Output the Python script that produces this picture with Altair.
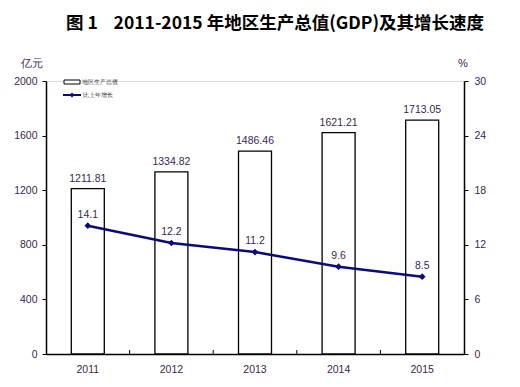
import altair as alt
import pandas as pd

years = ["2011", "2012", "2013", "2014", "2015"]
gdp = [1211.81, 1334.82, 1486.46, 1621.21, 1713.05]
growth = [14.1, 12.2, 11.2, 9.6, 8.5]
gdp_labels = ["1211.81", "1334.82", "1486.46", "1621.21", "1713.05"]
growth_labels = ["14.1", "12.2", "11.2", "9.6", "8.5"]

df = pd.DataFrame({"year": years, "gdp": gdp, "growth": growth,
                   "gdp_label": gdp_labels, "growth_label": growth_labels})

W, H = 418, 273
LBL = "#3a1f52"
NAVY = "#0b0b78"
FONT = "Liberation Sans"

base = alt.Chart(df)
x = alt.X("year:N", title=None, scale=alt.Scale(paddingInner=0.0, paddingOuter=0.0),
          axis=alt.Axis(labelAngle=0, ticks=False, domainColor="black", domainWidth=1.5,
                        labelColor=LBL, labelFont=FONT, labelFontSize=10.5, labelPadding=10))

yl = alt.Y("gdp:Q", title=None, scale=alt.Scale(domain=[0, 2000]),
           axis=alt.Axis(values=[0, 400, 800, 1200, 1600, 2000], format="d", grid=False,
                         domainColor="black", domainWidth=1.5, tickColor="black", tickSize=4,
                         labelPadding=5, labelColor=LBL, labelFont=FONT, labelFontSize=10.5))

yr = alt.Y("growth:Q", title=None, scale=alt.Scale(domain=[0, 30]),
           axis=alt.Axis(orient="right", values=[0, 6, 12, 18, 24, 30], format="d", grid=False,
                         domainColor="black", domainWidth=1.5, tickColor="black", tickSize=4,
                         labelPadding=6, labelColor=LBL, labelFont=FONT, labelFontSize=10.5))

bars = base.mark_bar(size=33, fill="white", stroke="black", strokeWidth=1.3).encode(x=x, y=yl)
bar_text = base.mark_text(dy=-10, font=FONT, fontSize=10.5, color=LBL).encode(
    x=x, y=yl, text="gdp_label:N")
sep_ticks = base.mark_rule(color="black", strokeWidth=1, xOffset=W / 10).encode(
    x=x, y=alt.value(H), y2=alt.value(H - 4)).transform_filter("datum.year != '2015'")

left = alt.layer(bars, bar_text, sep_ticks)

line = base.mark_line(color=NAVY, strokeWidth=2.5).encode(x=x, y=yr)
pts = base.mark_point(shape="diamond", filled=True, color=NAVY, size=45, opacity=1).encode(
    x=x, y=yr)
line_text = base.mark_text(dy=-11, font=FONT, fontSize=10.5, color=LBL).encode(
    x=x, y=yr, text="growth_label:N")
right = alt.layer(line, pts, line_text)

NB = "\u00a0"
title_text = "图" + NB + "1" + NB * 4 + "2011-2015" + NB + "年地区生产总值(GDP)及其增长速度"

one = alt.Chart(pd.DataFrame({"a": [0]}))
title = one.mark_text(font="Noto Sans CJK SC", fontWeight="bold", fontSize=17.5, color="black",
                      baseline="alphabetic").encode(
    x=alt.value(229), y=alt.value(-52), text=alt.value(title_text))
unit_l = one.mark_text(font=FONT, fontSize=11, color=LBL).encode(
    x=alt.value(-14), y=alt.value(-17), text=alt.value("亿元"))
unit_r = one.mark_text(font=FONT, fontSize=11, color=LBL).encode(
    x=alt.value(417), y=alt.value(-17), text=alt.value("%"))
leg_rect = one.mark_rect(fill="white", stroke="black", strokeWidth=1).encode(
    x=alt.value(18), x2=alt.value(34), y=alt.value(-1), y2=alt.value(3))
leg_t1 = one.mark_text(font=FONT, fontSize=6, color="#333333", align="left").encode(
    x=alt.value(36), y=alt.value(1), text=alt.value("地区生产总值"))
leg_line = one.mark_rule(color=NAVY, strokeWidth=2).encode(
    x=alt.value(17), x2=alt.value(35), y=alt.value(14))
leg_pt = one.mark_point(shape="diamond", filled=True, color=NAVY, size=25, opacity=1).encode(
    x=alt.value(26), y=alt.value(14))
leg_t2 = one.mark_text(font=FONT, fontSize=6, color="#333333", align="left").encode(
    x=alt.value(37), y=alt.value(14), text=alt.value("比上年增长"))

decor = alt.layer(title, unit_l, unit_r, leg_rect, leg_t1, leg_line, leg_pt, leg_t2)

chart = alt.layer(left, right, decor).resolve_scale(y="independent").properties(
    width=W, height=H, autosize="none",
    padding={"left": 38, "top": 73, "right": 46, "bottom": 26},
).configure_view(stroke=None).configure(background="white")

chart.save("out.html", embed_options={"renderer": "svg", "actions": False})
